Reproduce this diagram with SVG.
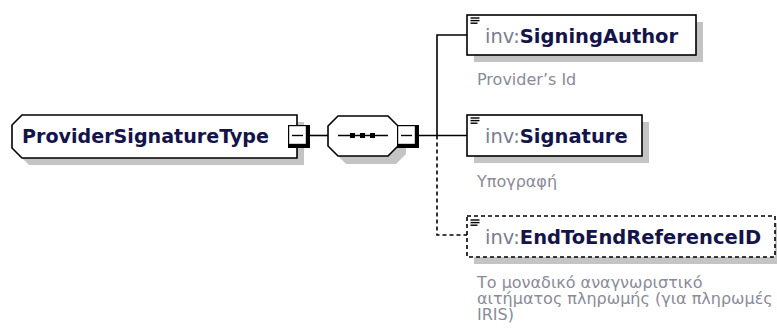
<svg xmlns="http://www.w3.org/2000/svg" width="777" height="333" viewBox="0 0 777 333">
<style>
.shadow{fill:#c4c4c4;stroke:none}
.box{fill:#fff;stroke:#000;stroke-width:1.6}
.dash{stroke-dasharray:4,3}
.line{fill:none;stroke:#000;stroke-width:1.6}
.name{font-family:"DejaVu Sans",Verdana,sans-serif;font-size:19.5px;font-weight:bold;fill:#14144a}
.ns{font-weight:normal;fill:#7c7c8c}
.desc{font-family:"DejaVu Sans",Verdana,sans-serif;font-size:16px;fill:#8a8a9a}
.icon{stroke:#000;stroke-width:1.4}
</style>
<defs>
<g id="btn">
<rect x="0" y="0" width="22" height="23" fill="#000"/>
<rect x="1.2" y="1.2" width="16.6" height="17.6" fill="#fff"/>
<line x1="4" y1="10.5" x2="15" y2="10.5" stroke="#000" stroke-width="1.4"/>
</g>
<g id="ico">
<line x1="0" y1="0" x2="9" y2="0" class="icon"/>
<line x1="0" y1="2.6" x2="9" y2="2.6" class="icon"/>
<line x1="0" y1="5.2" x2="7" y2="5.2" class="icon"/>
</g>
</defs>

<g id="connectors">
<line x1="310" y1="135.5" x2="328" y2="135.5" class="line"/>
<line x1="418" y1="135.5" x2="467" y2="135.5" class="line"/>
<polyline points="467,35 437,35 437,135.5" class="line"/>
<polyline points="437,135.5 437,235 467,235" class="line dash"/>
</g>

<g id="ProviderSignatureType">
<polygon points="29,122 304,122 304,165 29,165 19,155 19,132" class="shadow"/>
<polygon points="22,115 297,115 297,158 22,158 12,148 12,125" class="box"/>
<text x="22" y="143" class="name" textLength="247" lengthAdjust="spacingAndGlyphs">ProviderSignatureType</text>
<use href="#btn" x="288" y="125"/>
</g>

<g id="sequence">
<polygon points="346,124 396,124 406,134 406,154 396,164 346,164 336,154 336,134" class="shadow"/>
<polygon points="338,116 388,116 398,126 398,146 388,156 338,156 328,146 328,126" class="box"/>
<line x1="338" y1="135.5" x2="388" y2="135.5" stroke="#000" stroke-width="1.4"/>
<rect x="350" y="133" width="5" height="5" fill="#000"/>
<rect x="360" y="133" width="5" height="5" fill="#000"/>
<rect x="370" y="133" width="5" height="5" fill="#000"/>
<use href="#btn" x="397" y="125"/>
</g>

<g id="SigningAuthor">
<rect x="474" y="22" width="229" height="40" class="shadow"/>
<rect x="467" y="15" width="229" height="40" class="box"/>
<use href="#ico" x="470.5" y="18"/>
<text x="485" y="42.5" class="name"><tspan class="ns">inv:</tspan>SigningAuthor</text>
<text x="477" y="85" class="desc">Provider’s Id</text>
</g>

<g id="Signature">
<rect x="474" y="122" width="175" height="41" class="shadow"/>
<rect x="467" y="115" width="175" height="41" class="box"/>
<use href="#ico" x="470.5" y="118"/>
<text x="485" y="143" class="name"><tspan class="ns">inv:</tspan>Signature</text>
<text x="477" y="187" class="desc">Υπογραφή</text>
</g>

<g id="EndToEndReferenceID">
<rect x="474" y="223" width="310" height="41" class="shadow"/>
<rect x="467" y="216" width="308" height="41" class="box dash"/>
<use href="#ico" x="470.5" y="220"/>
<text x="485" y="244" class="name"><tspan class="ns">inv:</tspan>EndToEndReferenceID</text>
<text class="desc"><tspan x="477" y="288">Το μοναδικό αναγνωριστικό</tspan><tspan x="477" y="304">αιτήματος πληρωμής (για πληρωμές</tspan><tspan x="477" y="320">IRIS)</tspan></text>
</g>
</svg>
